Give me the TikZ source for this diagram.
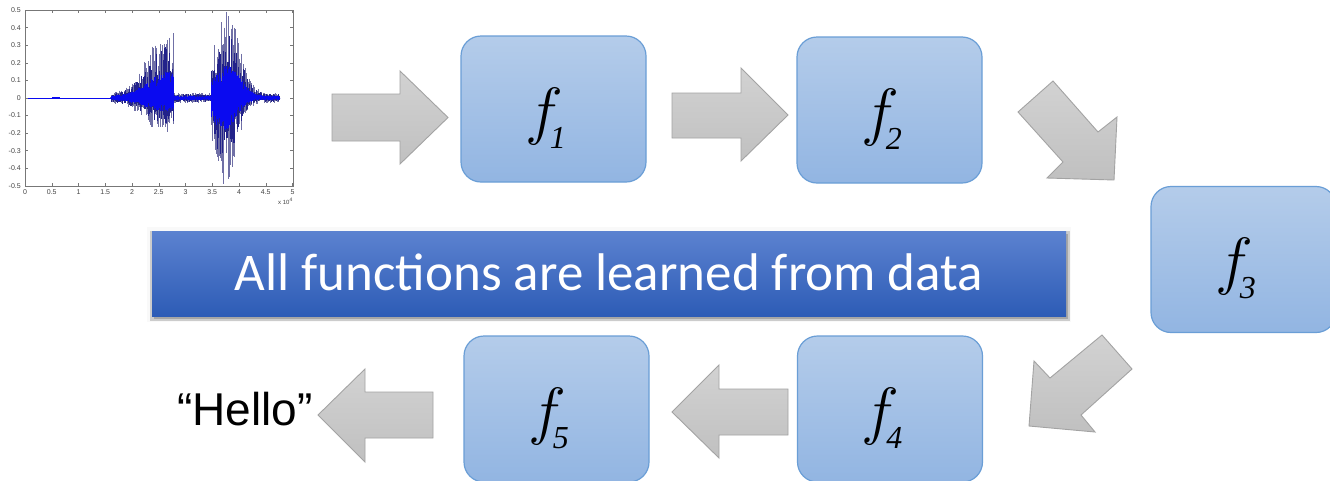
\documentclass[tikz,border=0pt]{standalone}
\usepackage{fix-cm}
\usepackage{fontspec}
\setmainfont{Liberation Serif}
\newfontfamily\sansA{Liberation Sans}
\newfontfamily\carlito{Carlito}
\usetikzlibrary{shadings}
\definecolor{boxtop}{HTML}{B4CCEA}
\definecolor{boxbot}{HTML}{92B5E2}
\definecolor{boxline}{HTML}{6A9ED6}
\definecolor{arrtop}{HTML}{D2D2D2}
\definecolor{arrbot}{HTML}{C0C0C0}
\definecolor{arrline}{HTML}{A3A3A3}
\definecolor{bantop}{HTML}{5C82D0}
\definecolor{banbot}{HTML}{2D5CB6}
\definecolor{wgray}{HTML}{7070A6}
\definecolor{wnavy}{HTML}{22228A}
\definecolor{wblue}{HTML}{0A0AF0}
\definecolor{axcol}{HTML}{777777}
\definecolor{labcol}{HTML}{444444}
\newcommand\flab[1]{{\fontsize{64pt}{64pt}\selectfont$f$\kern-13pt\raisebox{-16pt}{\fontsize{32pt}{32pt}\selectfont\itshape #1}\hspace*{16pt}}}
\begin{document}
\begin{tikzpicture}[x=1pt,y=-1pt,
  fbox/.style={draw=boxline, line width=1.2pt, rounded corners=20pt,
    top color=boxtop, bottom color=boxbot, minimum width=185pt,
    minimum height=146pt, inner sep=0pt, text height=60pt, text depth=14pt},
  barrow/.style={draw=arrline, line width=0.9pt, top color=arrtop,
    bottom color=arrbot, line join=miter},
  banner/.style={top color=bantop, bottom color=banbot, minimum width=914pt,
    minimum height=85pt, inner sep=0pt, text height=34pt, text depth=0pt,
    text=white, font=\carlito\fontsize{53pt}{53pt}\selectfont},
  ylab/.style={anchor=east, inner sep=0pt, text=labcol, font=\sansA\fontsize{7pt}{7pt}\selectfont},
  xlab/.style={anchor=north, inner sep=0pt, text=labcol, font=\sansA\fontsize{7pt}{7pt}\selectfont},
  axtick/.style={axcol, line width=0.5pt},
  declare function={
    gs(\t,\m,\w)=exp(-((\t-\m)/\w)*((\t-\m)/\w));
    penv(\t)=0.03*(\t>1.6)*(\t<4.75)+0.36*gs(\t,2.65,0.5)*(\t<2.78)+0.47*gs(\t,3.78,0.33)*(\t>3.48);
    nenv(\t)=0.03*(\t>1.6)*(\t<4.75)+0.17*gs(\t,2.6,0.5)*(\t<2.78)+0.47*gs(\t,3.72,0.3)*(\t>3.48);
  }]
\useasboundingbox (0,0) rectangle (1330,480);
\fill[white] (0,0) rectangle (1330,480);

% ---------- waveform plot ----------
\pgfmathsetseed{11}
\begin{scope}
\clip (25,10) rectangle (293,186);
\draw[wblue, line width=0.8pt] (25,98) -- (111,98);
\draw[wblue, line width=1.6pt] (52,98) -- (60,98);
\foreach \s in {1.600,1.612,...,4.800}{
  \pgfmathsetmacro\X{25+\s*53.5}
  \pgfmathsetmacro\P{penv(\s)*(0.2+0.8*rnd)}
  \pgfmathsetmacro\N{nenv(\s)*(0.2+0.8*rnd)}
  \draw[wgray, line width=0.55pt] (\X,{98-\P*175.7}) -- (\X,{98+\N*175.7});
}
\foreach \s in {1.606,1.618,...,4.800}{
  \pgfmathsetmacro\X{25+\s*53.5}
  \pgfmathsetmacro\P{penv(\s)*(0.15+0.6*rnd)}
  \pgfmathsetmacro\N{nenv(\s)*(0.15+0.6*rnd)}
  \draw[wnavy, line width=0.5pt] (\X,{98-\P*175.7}) -- (\X,{98+\N*175.7});
}
\foreach \s in {1.600,1.605,...,4.800}{
  \pgfmathsetmacro\X{25+\s*53.5}
  \pgfmathsetmacro\P{penv(\s)*(0.08+0.3*rnd)}
  \pgfmathsetmacro\N{nenv(\s)*(0.08+0.3*rnd)}
  \draw[wblue, line width=0.5pt] (\X,{98-\P*175.7}) -- (\X,{98+\N*175.7});
}
\end{scope}
\draw[axcol, line width=0.6pt] (25,10) rectangle (293,186);
\foreach \v in {0.5,0.4,0.3,0.2,0.1,0,-0.1,-0.2,-0.3,-0.4,-0.5}{
  \node[ylab] (yl) at (21,{98-\v*175.7}) {\v};
  \draw[axtick] (25,{98-\v*175.7}) -- (28,{98-\v*175.7});
  \draw[axtick] (293,{98-\v*175.7}) -- (290,{98-\v*175.7});
}
\foreach \v in {0,0.5,1,1.5,2,2.5,3,3.5,4,4.5,5}{
  \node[xlab] (xl) at ({25+\v*53.5},189) {\v};
  \draw[axtick] ({25+\v*53.5},186) -- ({25+\v*53.5},183);
  \draw[axtick] ({25+\v*53.5},10) -- ({25+\v*53.5},13);
}
\node[anchor=north east, inner sep=0pt, text=labcol, font=\sansA\fontsize{6pt}{6pt}\selectfont] (xexp) at (293,198) {x 10\textsuperscript{4}};

% ---------- function boxes ----------
\node[fbox] (f1) at (553.5,109) {\flab{1}};
\node[fbox] (f2) at (889.5,110) {\flab{2}};
\node[fbox] (f3) at (1243.5,259.5) {\flab{3}};
\node[fbox] (f4) at (890,409) {\flab{4}};
\node[fbox] (f5) at (556.5,409) {\flab{5}};

% ---------- block arrows ----------
\draw[barrow] (332,94) -- (400,94) -- (400,71) -- (448,117.5) -- (400,164) -- (400,141) -- (332,141) -- cycle;
\draw[barrow] (672,93) -- (741,93) -- (741,68) -- (788,115) -- (741,161) -- (741,138) -- (672,138) -- cycle;
\draw[barrow] (1053,81) -- (1098,132) -- (1117,117) -- (1114,180) -- (1047,178) -- (1063,162) -- (1018,112) -- cycle;
\draw[barrow] (1102,335) -- (1132,369) -- (1081,415) -- (1095,432) -- (1029,426) -- (1034,361) -- (1050,378) -- cycle;
\draw[barrow] (788,389) -- (719,389) -- (719,365) -- (672,412) -- (719,458) -- (719,435) -- (788,435) -- cycle;
\draw[barrow] (433,392) -- (365,392) -- (365,369) -- (318,415) -- (365,462) -- (365,438) -- (433,438) -- cycle;

% ---------- banner ----------
\fill[gray!5] (147,227) rectangle (1071,322);
\fill[gray!40] (150,231) rectangle (1070,321);
\fill[gray!70] (154,234) rectangle (1068,319);
\node[banner] (ban) at (609,273.5) {All functions are learned from data};

% ---------- output ----------
\node[anchor=base, inner sep=0pt, font=\sansA\fontsize{46pt}{46pt}\selectfont] (hello) at (245,425) {“Hello”};
\end{tikzpicture}
\end{document}
